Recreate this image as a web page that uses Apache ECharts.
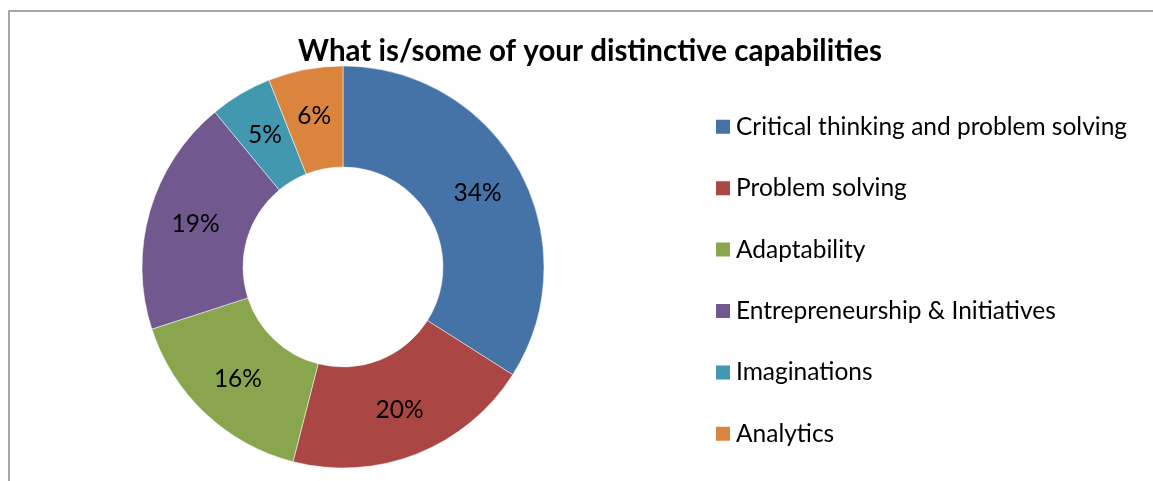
<!DOCTYPE html>
<html>
<head>
<meta charset="utf-8">
<title>Distinctive capabilities</title>
<script src="https://cdn.jsdelivr.net/npm/echarts@6/dist/echarts.min.js"></script>
<style>
  html, body { margin: 0; padding: 0; background: #ffffff; }
  #chart { width: 1153px; height: 481px; }
</style>
</head>
<body>
<div id="chart"></div>
<script>
// Survey answers: share of respondents per capability (percent)
const categories = [
  'Critical thinking and problem solving',
  'Problem solving',
  'Adaptability',
  'Entrepreneurship & Initiatives',
  'Imaginations',
  'Analytics'
];
const shares = [34, 20, 16, 19, 5, 6];
const colors = ['#4572A7', '#AA4643', '#89A54E', '#71588F', '#4198AF', '#DB843D'];
const chartTitle = 'What is/some of your distinctive capabilities';

const FONT = 'Lato, "Liberation Sans", sans-serif';

const chart = echarts.init(document.getElementById('chart'), null, { renderer: 'canvas' });

chart.setOption({
  animation: false,
  backgroundColor: '#ffffff',
  color: colors,
  title: {
    text: chartTitle,
    left: 585,
    top: 31,
    textAlign: 'center',
    textStyle: { fontFamily: FONT, fontWeight: 'bold', fontSize: 29.5, color: '#000000' }
  },
  legend: {
    orient: 'vertical',
    left: 709,
    top: 109.3,
    itemWidth: 16,
    itemHeight: 16,
    itemGap: 36.4,
    icon: 'rect',
    data: categories,
    textStyle: { fontFamily: FONT, fontSize: 24.5, color: '#000000', lineHeight: 24 }
  },
  graphic: [{
    type: 'polyline',
    shape: { points: [[9, 481], [9, 11], [1153, 11]] },
    style: { stroke: '#8a8a8a', lineWidth: 1.5, fill: null },
    silent: true
  }],
  series: [{
    type: 'pie',
    center: [343, 267],
    radius: [100, 201],
    startAngle: 90,
    clockwise: true,
    avoidLabelOverlap: false,
    itemStyle: { borderColor: '#ffffff', borderWidth: 0.5 },
    label: {
      show: true,
      position: 'inside',
      formatter: '{c}%',
      fontFamily: FONT,
      fontSize: 24.5,
      color: '#000000'
    },
    labelLine: { show: false },
    emphasis: { disabled: true },
    data: categories.map((name, i) => ({ name, value: shares[i] }))
  }]
});
</script>
</body>
</html>
